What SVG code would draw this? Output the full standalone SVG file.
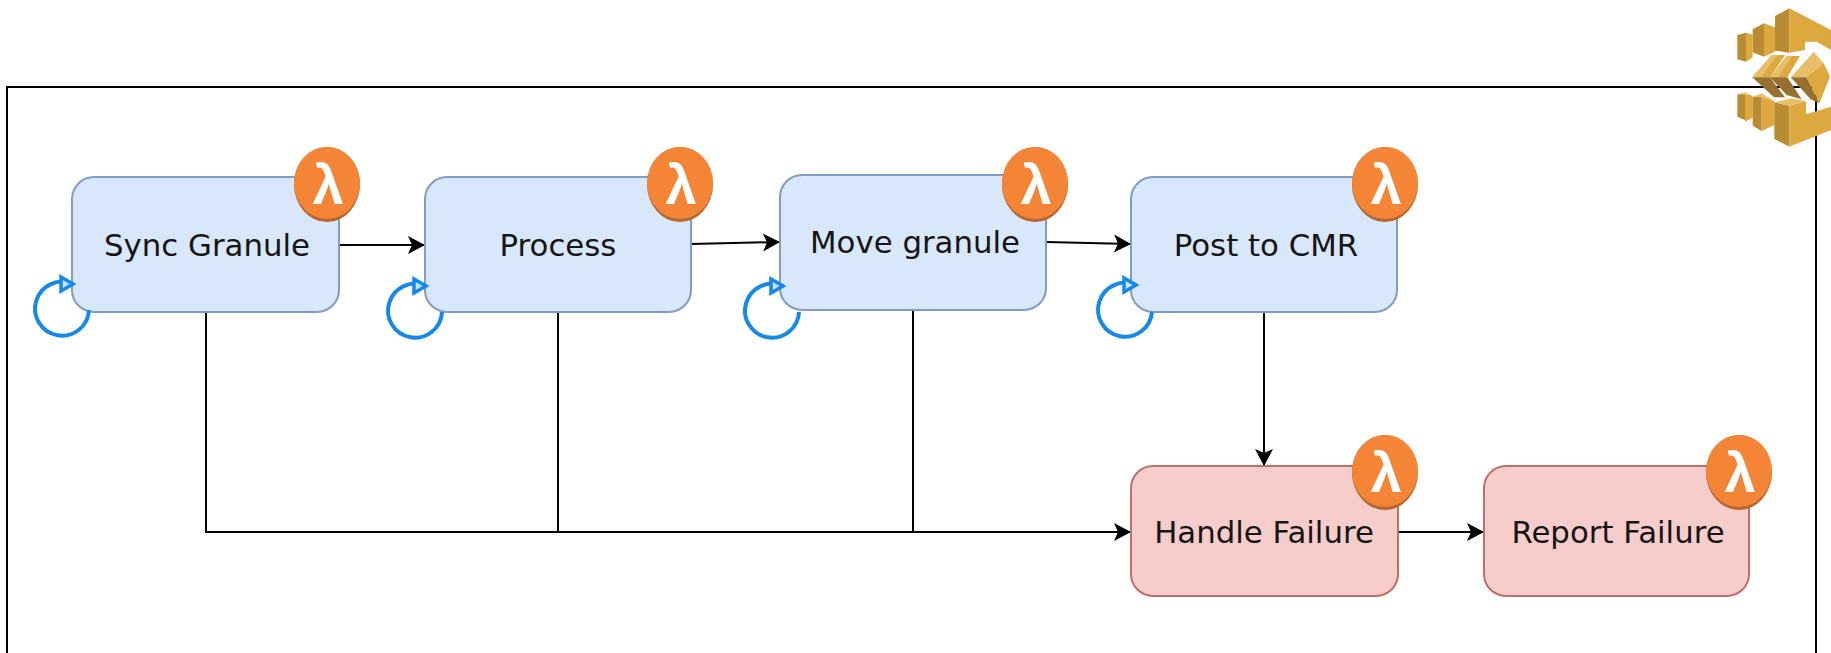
<svg xmlns="http://www.w3.org/2000/svg" width="1831" height="653" viewBox="0 0 1831 653">
<style>
text{font-family:"DejaVu Sans",sans-serif}
.lbl{font-size:30.800px;fill:#151515;text-anchor:middle}
.blue{fill:#d9e7fb;stroke:#7f9cc6;stroke-width:2}
.red{fill:#f7cdcb;stroke:#bf6f6b;stroke-width:2}
.conn{fill:none;stroke:#000;stroke-width:2}
.loop{fill:none;stroke:#1688ea;stroke-width:4}
.lam{fill:#f58536}
.lamb{fill:#b4672f}
.lg{font-family:"Liberation Sans",sans-serif;font-size:56px;font-weight:bold;fill:#fff;text-anchor:middle}
.g{fill:#dda83e}.d{fill:#96702c}.l{fill:#e8bf68}.m{fill:#b98b33}
</style>
<defs>
<marker id="ah" markerUnits="userSpaceOnUse" markerWidth="20" markerHeight="20" refX="18" refY="10" orient="auto"><path d="M1 1L18 10L1 19L5 10Z" fill="#000"/></marker>
<marker id="bh" markerUnits="userSpaceOnUse" markerWidth="18" markerHeight="20" refX="14" refY="10" orient="0"><path d="M2 3L14 10L2 17Z" fill="#cfe3f8" stroke="#1688ea" stroke-width="3.500"/></marker>
</defs>
<rect id="frame" x="7" y="87" width="1809" height="600" fill="none" stroke="#000" stroke-width="2"/>
<g id="connectors">
<path class="conn" marker-end="url(#ah)" d="M339 245H425"/>
<path class="conn" marker-end="url(#ah)" d="M691 244L780 242"/>
<path class="conn" marker-end="url(#ah)" d="M1046 242L1131 244"/>
<path class="conn" marker-end="url(#ah)" d="M1264 312V466"/>
<path class="conn" marker-end="url(#ah)" d="M1398 532H1484"/>
<path class="conn" marker-end="url(#ah)" d="M206 312V532H1131"/>
<path class="conn" d="M558 312V532"/>
<path class="conn" d="M913 310V532"/>
</g>
<g id="sync-granule"><rect class="blue" x="72" y="177" width="267" height="135" rx="22"/><text class="lbl" x="207" y="256">Sync Granule</text>
<path class="loop" marker-end="url(#bh)" d="M89 310A27 27 0 1 1 73 284"/>
<ellipse class="lamb" cx="327" cy="184.500" rx="33" ry="37.500"/><ellipse class="lam" cx="327" cy="183" rx="33" ry="36"/><text class="lg" x="328" y="204">λ</text></g>
<g id="process"><rect class="blue" x="425" y="177" width="266" height="135" rx="22"/><text class="lbl" x="558" y="256">Process</text>
<path class="loop" marker-end="url(#bh)" d="M442 312A27 27 0 1 1 426 286"/>
<ellipse class="lamb" cx="680" cy="184.500" rx="33" ry="37.500"/><ellipse class="lam" cx="680" cy="183" rx="33" ry="36"/><text class="lg" x="681" y="204">λ</text></g>
<g id="move-granule"><rect class="blue" x="780" y="175" width="266" height="135" rx="22"/><text class="lbl" x="915" y="253">Move granule</text>
<path class="loop" marker-end="url(#bh)" d="M799 312A27 27 0 1 1 783 286"/>
<ellipse class="lamb" cx="1035" cy="184.500" rx="33" ry="37.500"/><ellipse class="lam" cx="1035" cy="183" rx="33" ry="36"/><text class="lg" x="1036" y="204">λ</text></g>
<g id="post-to-cmr"><rect class="blue" x="1131" y="177" width="266" height="135" rx="22"/><text class="lbl" x="1266" y="256">Post to CMR</text>
<path class="loop" marker-end="url(#bh)" d="M1152 312A27 27 0 1 1 1136 285"/>
<ellipse class="lamb" cx="1385" cy="184.500" rx="33" ry="37.500"/><ellipse class="lam" cx="1385" cy="183" rx="33" ry="36"/><text class="lg" x="1386" y="204">λ</text></g>
<g id="handle-failure"><rect class="red" x="1131" y="466" width="267" height="130" rx="22"/><text class="lbl" x="1264" y="543">Handle Failure</text>
<ellipse class="lamb" cx="1385" cy="472.500" rx="33" ry="37.500"/><ellipse class="lam" cx="1385" cy="471" rx="33" ry="36"/><text class="lg" x="1386" y="492">λ</text></g>
<g id="report-failure"><rect class="red" x="1484" y="466" width="265" height="130" rx="22"/><text class="lbl" x="1618" y="543">Report Failure</text>
<ellipse class="lamb" cx="1739" cy="472.500" rx="33" ry="37.500"/><ellipse class="lam" cx="1739" cy="471" rx="33" ry="36"/><text class="lg" x="1740" y="492">λ</text></g>
<g id="step-functions">
<g transform="translate(1690 0) scale(.3333)">
<path class="m" d="M255 48L298 25V158L255 152Z"/>
<path class="g" d="M298 25L423 90V150L380 125H345V150L298 158Z"/>
<path class="m" d="M188 88L222 70V170L188 157Z"/><path class="g" d="M222 70L255 82V155L222 170Z"/>
<path class="m" d="M142 105L168 98V185L142 178Z"/><path class="g" d="M168 98L188 104V172L168 185Z"/>
<path class="g" d="M187 232L245 165H285L240 232Z"/><path class="l" d="M187 232L245 165H262L215 232Z"/>
<path class="d" d="M187 232L240 232L285 292L252 292Z"/>
<path class="g" d="M240 232L290 168H330L292 232Z"/><path class="l" d="M240 232L290 168H306L265 232Z"/>
<path class="d" d="M240 232L292 232L335 298L290 285Z"/>
<path class="l" d="M302 232L372 155L400 190L350 232Z"/><path class="d" d="M302 232L350 232L388 310L362 298Z"/><path class="g" d="M350 232L400 190L385 155L420 230L388 310Z"/>
</g>
<g transform="translate(1730 75) scale(.3333)">
<path class="m" d="M22 58L45 58V135L22 125Z"/><path class="g" d="M45 58L68 62V128L45 140Z"/><path class="l" d="M22 58L45 52L68 62L45 58Z"/>
<path class="m" d="M68 66L95 66V168L68 152Z"/><path class="g" d="M95 66L133 78V150L95 168Z"/><path class="l" d="M68 66L95 55L133 78L95 66Z"/>
<path class="m" d="M133 82L178 92V215L133 192Z"/><path class="g" d="M178 92L228 78V118L303 95V165L178 215Z"/><path class="l" d="M133 82L185 70L228 78L178 92Z"/>
</g>
</g>
</svg>
